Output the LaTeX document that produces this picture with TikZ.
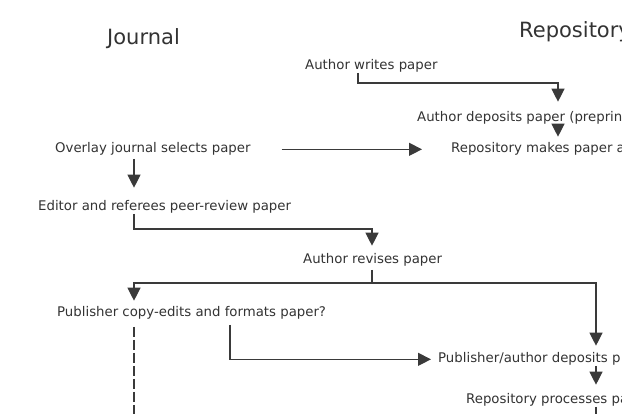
\documentclass[tikz,border=0pt]{standalone}
\usepackage{fontspec}
\setmainfont{DejaVu Sans}
\usetikzlibrary{arrows.meta}
\definecolor{ink}{HTML}{333333}
\definecolor{wire}{HTML}{3A3A3A}
\newcommand{\headfont}{\fontsize{21}{24}\selectfont}
\newcommand{\stepfont}{\fontsize{13.3}{16}\selectfont}
\tikzset{
  steptext/.style={anchor=base west, inner sep=0pt, text=ink, font=\stepfont},
  headtext/.style={anchor=base west, inner sep=0pt, text=ink, font=\headfont},
  flow/.style={draw=wire, line width=1.2pt, -{Triangle[length=13pt, width=13pt]}},
  plainflow/.style={draw=wire, line width=1.2pt},
}

\begin{document}
\begin{tikzpicture}[x=1pt,y=-1pt]
  \fill[white] (0,0) rectangle (622,414);
  \useasboundingbox (0,0) rectangle (622,414);

  % column positions for the vertical connectors
  \coordinate (jcol) at (134,0);
  \coordinate (midcol) at (372,0);
  \coordinate (repcol) at (558,0);
  \coordinate (rightcol) at (596,0);
  \coordinate (jbottom) at (134,420);
  \coordinate (rightbottom) at (596,420);

  % Headings
  \node[headtext] (journal) at (107,45) {Journal};
  \node[headtext] (repository) at (519,38) {Repository};

  % Steps, placed on their baselines
  \node[steptext] (writes) at (305,70) {Author writes paper};
  \node[steptext] (deposits) at (417,122) {Author deposits paper (preprin};
  \node[steptext] (overlay) at (55,153) {Overlay journal selects paper};
  \node[steptext] (makes) at (451,153) {Repository makes paper a};
  \node[steptext] (review) at (38,211) {Editor and referees peer-review paper};
  \node[steptext] (revises) at (303,264) {Author revises paper};
  \node[steptext] (copyedit) at (57,317) {Publisher copy-edits and formats paper?};
  \node[steptext] (pubdeposit) at (438,363) {Publisher/author deposits p};
  \node[steptext] (processes) at (466,404) {Repository processes pa};

  % Connectors
  \draw[flow, shorten >=10pt] ([xshift=53pt]writes.south west) -- ++(0,10) -| (deposits.north -| repcol);
  \draw[flow, shorten >=6pt] (deposits.south -| repcol) -- (makes.north -| repcol);
  \draw[flow, shorten <=31pt, shorten >=29pt] (overlay.east) -- (makes.west);
  \draw[flow, shorten <=3pt, shorten >=13pt] (overlay.south -| jcol) -- (review.north -| jcol);
  \draw[flow, shorten >=8pt] (review.south -| jcol) -- ++(0,15) -| (revises.north -| midcol);
  \draw[flow, shorten <=3pt, shorten >=6pt] (revises.south -| midcol) -- ++(0,16) coordinate (split) -| (copyedit.north -| jcol);
  \draw[flow, shorten >=7pt] (split) -| (pubdeposit.north -| rightcol);
  \draw[plainflow, dash pattern=on 10pt off 3pt, shorten <=7pt] (copyedit.south -| jcol) -- (jbottom);
  \draw[flow, shorten <=5pt, shorten >=7pt] ([xshift=173pt]copyedit.south west) |- (pubdeposit.west);
  \draw[flow, shorten >=9pt] (pubdeposit.south -| rightcol) -- (processes.north -| rightcol);
  \draw[plainflow] (processes.south -| rightcol) -- (rightbottom);
\end{tikzpicture}
\end{document}
